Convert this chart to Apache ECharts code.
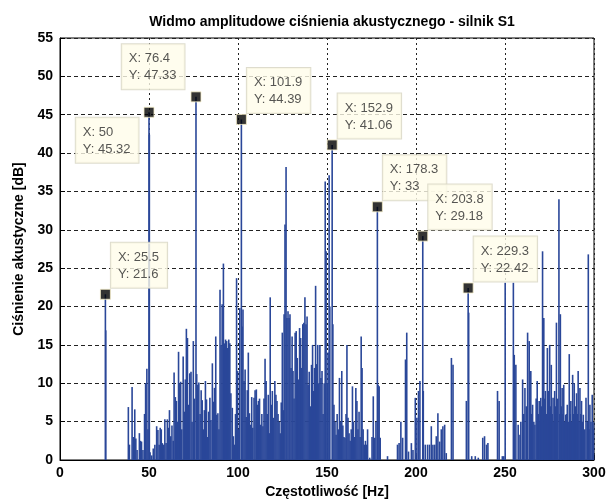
<!DOCTYPE html>
<html>
<head>
<meta charset="utf-8">
<script src="https://cdn.jsdelivr.net/npm/echarts@6/dist/echarts.min.js"></script>
<style>
html,body{margin:0;padding:0;background:#fff;}
#chart{width:609px;height:504px;}
</style>
</head>
<body>
<div id="chart"></div>
<script>
// Spectrum lines: frequency [Hz] and amplitude [dB]
const freqs = [
25.5,25.7,38.4,39.0,40.5,41.2,42.0,42.6,43.3,44.6,45.2,45.8,46.6,47.5,48.1,48.8,49.4,50.0,50.2,50.6,
51.5,52.4,53.3,54.3,55.0,55.7,56.3,56.9,57.5,58.2,58.9,59.6,60.3,61.0,61.5,62.2,62.9,63.6,64.1,64.8,
65.4,66.0,66.6,67.2,67.8,68.4,69.2,69.8,70.4,71.0,71.6,72.3,72.9,73.6,74.2,74.9,75.5,76.4,76.8,77.4,
78.0,78.7,79.3,79.9,80.5,81.1,81.7,82.3,82.9,83.5,84.2,84.8,85.6,86.2,86.8,87.5,88.1,88.7,89.3,89.9,
90.5,91.1,91.8,92.4,93.0,93.6,94.2,94.8,95.4,96.0,96.8,97.4,98.0,98.6,99.2,99.8,100.4,101.0,101.9,102.3,
102.8,103.4,104.0,104.6,105.2,105.8,106.4,107.0,107.7,108.3,109.0,109.6,110.3,110.9,111.5,112.1,112.8,113.4,114.0,114.6,
115.2,115.8,116.4,117.0,117.6,118.1,118.7,119.3,119.9,120.7,121.3,121.9,122.5,123.1,123.7,124.3,124.9,125.5,125.9,126.4,
127.0,127.5,128.1,128.7,129.2,129.8,130.4,130.9,131.5,132.1,132.7,133.3,133.9,134.6,135.2,135.8,136.4,137.0,137.6,138.2,
138.8,139.4,140.0,140.7,141.3,141.9,142.5,143.0,143.6,144.2,144.8,145.4,146.0,146.6,147.2,147.8,148.4,149.0,149.5,150.1,
150.6,151.2,151.6,152.9,153.3,153.9,154.5,155.1,155.7,156.3,157.0,157.6,158.3,158.9,159.5,160.1,160.7,161.2,161.8,162.4,
163.0,163.6,164.3,164.9,165.6,166.2,166.8,167.4,168.0,168.6,169.2,169.7,170.3,170.9,171.6,172.3,172.8,174.0,175.3,176.0,
176.8,177.5,178.3,178.7,179.3,179.9,184.0,189.6,190.5,191.5,192.5,194.1,194.8,195.8,197.4,198.3,199.6,200.5,201.4,202.2,
203.8,204.1,205.2,206.5,207.6,208.6,209.5,210.5,211.4,212.3,213.3,214.2,215.1,216.1,217.0,219.9,220.8,228.3,229.3,229.6,
231.3,233.3,235.0,237.5,238.5,239.6,240.4,245.8,246.7,248.5,249.3,250.1,254.7,255.2,256.1,257.4,258.4,258.9,259.9,260.5,
261.2,262.0,262.7,263.6,264.0,264.5,265.0,265.5,266.2,266.8,267.5,268.1,268.7,269.2,269.7,270.1,270.6,271.1,271.8,272.2,
272.7,273.2,273.8,274.5,275.1,275.6,276.0,276.5,277.0,277.5,277.9,278.4,278.9,279.6,280.3,280.8,281.1,281.6,282.1,282.6,
283.0,283.5,284.1,284.6,285.0,285.5,286.1,286.6,287.0,287.5,288.0,288.5,288.9,289.5,290.2,290.7,291.1,291.6,292.1,292.6,
293.0,293.5,294.0,294.8,295.5,296.2,296.8,297.2,297.7,298.3,299.0,299.5,300.0
];
const amps = [
21.6,16.9,6.9,2.0,9.5,3.0,6.6,2.8,1.3,3.5,2.5,2.4,1.3,6.0,10.0,11.9,4.0,45.32,42.4,1.0,
0.6,1.5,2.0,4.4,3.9,2.0,4.2,4.0,2.2,2.0,5.3,2.2,5.3,4.2,6.5,3.1,4.5,2.5,11.4,8.2,
7.7,5.0,14.1,10.0,10.2,4.0,13.5,6.3,10.5,17.1,15.9,7.2,11.3,11.5,5.0,15.5,8.0,47.33,11.2,9.8,
10.1,6.0,9.1,7.8,4.0,6.5,10.3,7.9,3.0,6.3,8.1,5.2,12.6,7.6,9.4,16.1,5.9,6.1,4.0,22.2,
15.0,20.3,25.6,15.2,15.7,15.5,14.6,15.7,15.2,8.7,6.8,3.1,2.0,6.0,23.7,11.6,4.0,19.8,44.39,17.4,
19.6,10.3,11.8,5.6,9.1,14.0,6.1,4.6,8.2,4.2,8.1,9.1,9.2,7.2,7.7,8.0,4.6,6.0,4.4,8.0,
13.2,10.3,6.0,8.5,3.5,21.2,7.2,9.0,5.5,10.3,8.5,7.7,6.0,5.0,3.5,7.5,16.6,6.5,19.0,30.7,
38.2,18.5,19.4,18.5,19.0,12.0,16.1,11.6,8.0,16.6,16.8,13.3,10.5,17.2,15.9,12.0,17.7,17.9,21.2,17.7,
18.7,9.8,11.5,7.0,12.4,15.0,9.0,12.0,22.7,12.5,15.0,10.0,15.0,10.7,11.6,6.0,10.0,36.3,27.2,10.0,
14.0,37.1,20.0,41.06,17.7,7.2,5.0,3.3,6.0,4.0,10.7,5.0,11.6,4.5,3.0,2.9,6.0,15.0,5.5,3.5,
2.5,4.0,9.6,5.0,3.0,9.4,7.7,4.0,6.3,3.0,16.1,12.0,4.0,2.0,2.5,2.0,4.0,0.3,3.0,8.3,
2.9,5.0,33.0,9.8,9.6,2.9,0.5,2.0,2.2,5.0,2.9,13.1,16.6,1.1,2.2,1.3,8.1,5.5,9.0,10.3,
29.18,9.0,2.0,2.0,2.0,4.4,2.0,2.0,3.1,6.1,2.4,4.0,4.4,4.6,0.9,13.3,12.4,7.7,22.42,19.2,
0.5,0.5,0.3,2.9,3.1,2.0,2.2,9.0,7.7,0.5,0.5,23.1,23.1,13.7,12.4,4.6,3.3,5.0,10.5,6.0,
9.4,7.0,16.6,15.5,8.0,11.6,6.0,7.2,5.0,4.6,8.0,10.3,6.0,7.7,5.0,8.1,7.0,27.2,18.5,8.0,
9.0,6.0,14.6,9.0,15.0,7.0,12.4,6.0,8.1,5.0,9.0,7.0,17.9,8.0,34.0,6.0,19.0,7.0,9.4,6.0,
9.8,5.0,5.9,6.0,7.2,5.0,13.8,6.0,7.7,5.0,11.1,6.0,10.0,7.0,8.7,6.0,11.6,5.0,9.4,6.0,
7.7,5.0,5.9,4.0,8.1,5.0,26.8,4.0,7.2,5.0,8.5,4.0,5.0
];
// Data tips
const tipFreqs = [25.5, 50, 76.4, 101.9, 152.9, 178.3, 203.8, 229.3];
const tipAmps  = [21.6, 45.32, 47.33, 44.39, 41.06, 33, 29.18, 22.42];
const tipSide  = ['ur','dl','ul','ur','ur','ur','ur','ur'];

const xTicks = [0, 50, 100, 150, 200, 250, 300];
const yTicks = [0, 5, 10, 15, 20, 25, 30, 35, 40, 45, 50, 55];

const FONT = '"Liberation Sans", Arial, sans-serif';
const TIP_FS = 13;
const PAD = [6, 8, 5, 7];

const barData = freqs.map((f, i) => [f, amps[i]]);

const ctx = document.createElement('canvas').getContext('2d');
ctx.font = TIP_FS + 'px ' + FONT;
const textW = lines => Math.max.apply(null, lines.map(s => ctx.measureText(s).width));

const labelFor = (side, lines) => {
  const boxW = textW(lines) + PAD[1] + PAD[3] + 2;
  const base = {
    show: true,
    backgroundColor: '#fffcea',
    borderColor: '#d6d3c0',
    borderWidth: 1,
    padding: PAD,
    color: '#2a2a2a',
    fontFamily: FONT,
    fontSize: TIP_FS,
    lineHeight: 17,
    align: 'left',
    formatter: lines.join('\n')
  };
  if (side === 'ur') return Object.assign(base, {position: [11, -1], verticalAlign: 'bottom'});
  if (side === 'dl') return Object.assign(base, {position: [-3 - boxW, 11], verticalAlign: 'top'});
  return Object.assign(base, {position: [-4 - boxW, -2], verticalAlign: 'bottom'});
};

const tipData = tipFreqs.map((f, i) => ({
  value: [f, tipAmps[i]],
  label: labelFor(tipSide[i], ['X: ' + f, 'Y: ' + tipAmps[i]])
}));

const chart = echarts.init(document.getElementById('chart'), null, {renderer: 'canvas'});
chart.setOption({
  animation: false,
  backgroundColor: '#ffffff',
  title: {
    text: 'Widmo amplitudowe ciśnienia akustycznego - silnik S1',
    left: 327, top: 10, textAlign: 'center',
    textStyle: {fontFamily: FONT, fontWeight: 'bold', fontSize: 14, color: '#000'}
  },
  grid: {left: 60, right: 15, top: 38, bottom: 44, show: true, borderColor: '#000', borderWidth: 1},
  xAxis: {
    type: 'value', min: 0, max: 300, interval: 50,
    name: 'Częstotliwość [Hz]', nameLocation: 'middle', nameGap: 25,
    nameTextStyle: {fontFamily: FONT, fontWeight: 'bold', fontSize: 14, color: '#000'},
    axisLine: {show: true, lineStyle: {color: '#000'}},
    axisTick: {show: true, inside: true, length: 5, lineStyle: {color: '#000'}},
    axisLabel: {fontFamily: FONT, fontWeight: 'bold', fontSize: 14, color: '#000', margin: 6,
      formatter: v => xTicks.includes(v) ? String(v) : ''},
    splitLine: {show: true, lineStyle: {color: '#222', type: [2, 3], width: 1}}
  },
  yAxis: {
    type: 'value', min: 0, max: 55, interval: 5,
    name: 'Ciśnienie akustyczne [dB]', nameLocation: 'middle', nameGap: 34,
    nameTextStyle: {fontFamily: FONT, fontWeight: 'bold', fontSize: 14, color: '#000'},
    axisLine: {show: true, lineStyle: {color: '#000'}},
    axisTick: {show: true, inside: true, length: 5, lineStyle: {color: '#000'}},
    axisLabel: {fontFamily: FONT, fontWeight: 'bold', fontSize: 14, color: '#000', margin: 7,
      formatter: v => yTicks.includes(v) ? String(v) : ''},
    splitLine: {show: true, lineStyle: {color: '#222', type: [4, 3], width: 1}}
  },
  series: [
    {
      type: 'bar',
      data: barData,
      barWidth: 1.6,
      itemStyle: {color: '#2a4799'},
      z: 3
    },
    {
      type: 'scatter',
      data: tipData,
      symbol: 'rect',
      symbolSize: 10,
      itemStyle: {color: '#000', borderColor: '#f5eec8', borderWidth: 1},
      z: 10
    }
  ]
});
</script>
</body>
</html>
